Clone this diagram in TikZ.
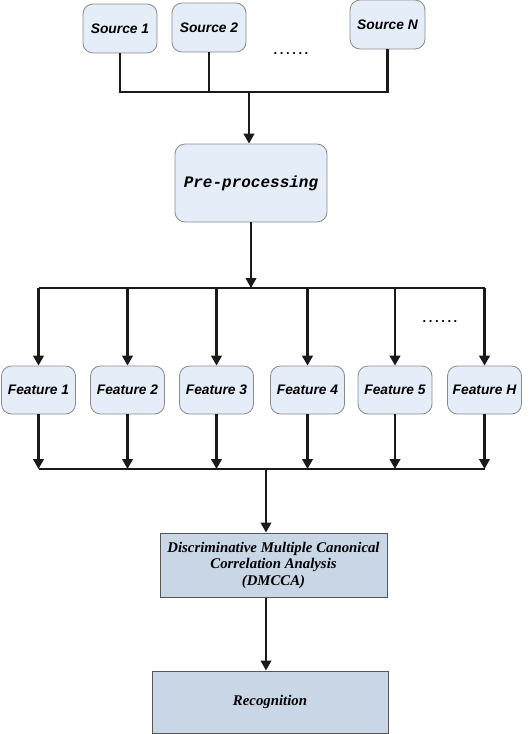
\documentclass[tikz,border=0pt]{standalone}
\usepackage{fontspec}
\setmainfont{Liberation Serif}
\newfontfamily\arialf{Liberation Sans}
\newfontfamily\monof{Liberation Mono}
\usetikzlibrary{arrows.meta}
\definecolor{boxfill}{HTML}{E5EDF8}
\definecolor{boxline}{HTML}{8A8A8A}
\definecolor{rectfill}{HTML}{C9D6E6}
\definecolor{rectline}{HTML}{555555}
\definecolor{wire}{HTML}{1A1A1A}
\newcommand{\sixdots}{.\kern2.6pt.\kern2.6pt.\kern2.6pt.\kern2.6pt.\kern2.6pt.}
\tikzset{
  rbox/.style={draw=boxline, line width=0.8pt, fill=boxfill, rounded corners=10pt, inner sep=0pt, font=\arialf\bfseries\itshape\fontsize{13.8}{15}\selectfont},
  sqbox/.style={draw=rectline, line width=1pt, fill=rectfill, inner sep=0pt, align=center, font=\bfseries\itshape\fontsize{14.8}{16.5}\selectfont},
  wireline/.style={draw=wire, line width=2.6pt},
  arr/.style={wireline, -{Triangle[length=10pt,width=10.5pt]}},
  dots/.style={font=\arialf\bfseries\fontsize{13}{13}\selectfont, inner sep=0pt}
}
\begin{document}
\begin{tikzpicture}[x=1pt,y=-1pt]
\useasboundingbox (0,0) rectangle (532,734);
% sources
\node[rbox, minimum width=74pt, minimum height=49pt] (s1) at (120,28.5) {Source 1};
\node[rbox, minimum width=74pt, minimum height=49pt] (s2) at (209,27.5) {Source 2};
\node[rbox, minimum width=75pt, minimum height=49pt] (sN) at (387.5,24.5) {Source N};
\node[dots] (d1) at (291,54) {\sixdots};
% preprocessing
\node[rbox, minimum width=152pt, minimum height=78pt, font=\monof\bfseries\itshape\fontsize{16}{18}\selectfont] (pre) at (251,183) {Pre-processing};
\coordinate (b1L) at (120,92);
\coordinate (b1R) at (387.5,92);
\coordinate (b1M) at (249,92);
\draw[wireline] (s1.south) -- (b1L) -- (b1R) -- (sN.south);
\draw[wireline] (s2.south) -- (s2.south |- b1L);
\draw[arr] (b1M) -- (b1M |- pre.north);
% features
\foreach \i/\x/\t in {1/38.5/Feature 1,2/127.5/Feature 2,3/216.5/Feature 3,4/307.5/Feature 4,5/395/Feature 5,6/484.5/Feature H}{
  \node[rbox, minimum width=74pt, minimum height=48pt] (f\i) at (\x,390) {\t};
}
\node[dots] (d2) at (440,322) {\sixdots};
\coordinate (b2L) at (38.5,288);
\coordinate (b2R) at (484.5,288);
\coordinate (b2M) at (251,288);
\draw[arr] (pre.south -| b2M) -- (b2M);
\draw[wireline] (b2L) -- (b2R);
\foreach \i in {1,...,6}{
  \draw[arr] (f\i.north |- b2L) -- (f\i.north);
}
\coordinate (b3L) at (38.5,469);
\coordinate (b3R) at (484.5,469);
\coordinate (b3M) at (266,469);
\foreach \i in {1,...,6}{
  \draw[arr] (f\i.south) -- (f\i.south |- b3L);
}
\draw[wireline] (b3L) -- (b3R);
% DMCCA
\node[sqbox, minimum width=227pt, minimum height=64pt] (dm) at (273.5,565) {Discriminative Multiple Canonical\\Correlation Analysis\\(DMCCA)};
\node[sqbox, minimum width=236pt, minimum height=62pt] (rec) at (270,702) {Recognition};
\draw[arr] (b3M) -- (b3M |- dm.north);
\draw[arr] (dm.south -| b3M) -- (b3M |- rec.north);
\end{tikzpicture}
\end{document}
